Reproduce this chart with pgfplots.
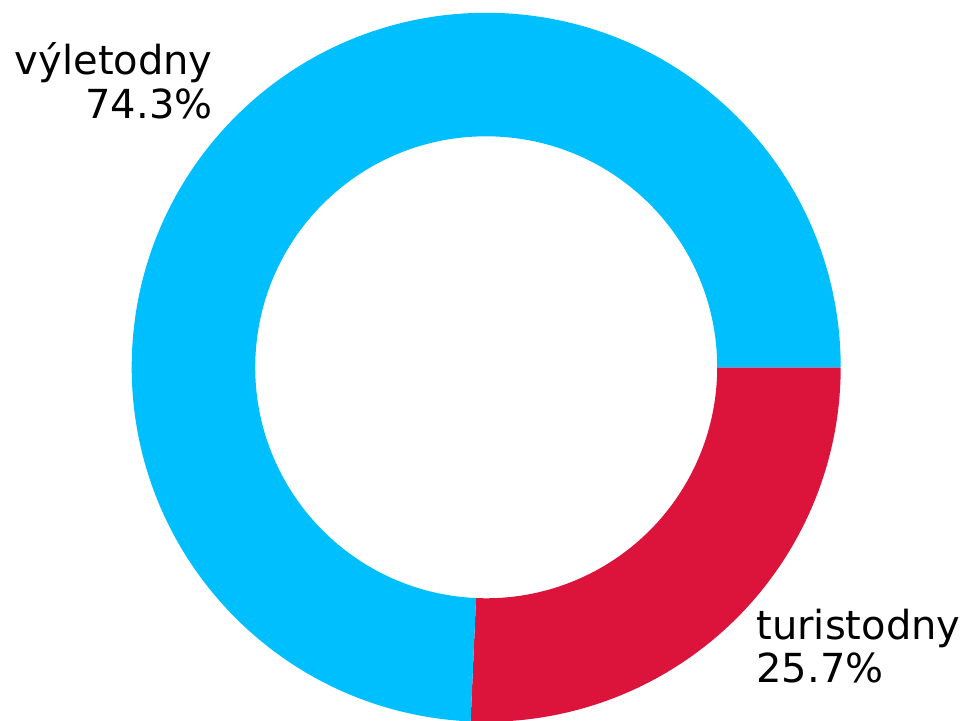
\documentclass[border=0pt]{standalone}
\usepackage{pgfplots}
\pgfplotsset{compat=1.18}
\usepackage{fontspec}
\setmainfont{DejaVu Sans}
\definecolor{deepsky}{HTML}{00BFFF}
\definecolor{crimsonc}{HTML}{DC143C}
\begin{document}
\begin{tikzpicture}
\useasboundingbox (0pt,0pt) rectangle (484.5pt,360.5pt);
% data (percent)
\def\valA{74.3}% vyletodny
\def\valB{25.7}% turistodny
\pgfmathsetmacro{\angB}{-\valB*3.6}
\pgfmathsetmacro{\angA}{\valA*3.6}
\begin{axis}[
  at={(0pt,0pt)}, anchor=south west,
  scale only axis, x=0.5pt, y=0.5pt,
  xmin=0, xmax=969, ymin=0, ymax=721,
  hide axis, clip=true,
]
% turistodny: from 0 clockwise
\fill[crimsonc] (axis cs:486.2,353.7) ++(0:177.25pt)
  arc[start angle=0, end angle=\angB, radius=177.25pt]
  -- ++(\angB:-61.75pt)
  arc[start angle=\angB, end angle=0, radius=115.5pt] -- cycle;
% vyletodny: from 0 counter-clockwise
\fill[deepsky] (axis cs:486.2,353.7) ++(0:177.25pt)
  arc[start angle=0, end angle=\angA, radius=177.25pt]
  -- ++(\angA:-61.75pt)
  arc[start angle=\angA, end angle=0, radius=115.5pt] -- cycle;
\node[anchor=base east, inner sep=0pt, font=\fontsize{20}{22}\selectfont] at (axis cs:213,646.5) {výletodny};
\node[anchor=base east, inner sep=0pt, font=\fontsize{20}{22}\selectfont] at (axis cs:213,602.7) {74.3\%};
\node[anchor=base west, inner sep=0pt, font=\fontsize{20}{22}\selectfont] at (axis cs:756,81) {turistodny};
\node[anchor=base west, inner sep=0pt, font=\fontsize{20}{22}\selectfont] at (axis cs:756,38) {25.7\%};
\end{axis}
\end{tikzpicture}
\end{document}
